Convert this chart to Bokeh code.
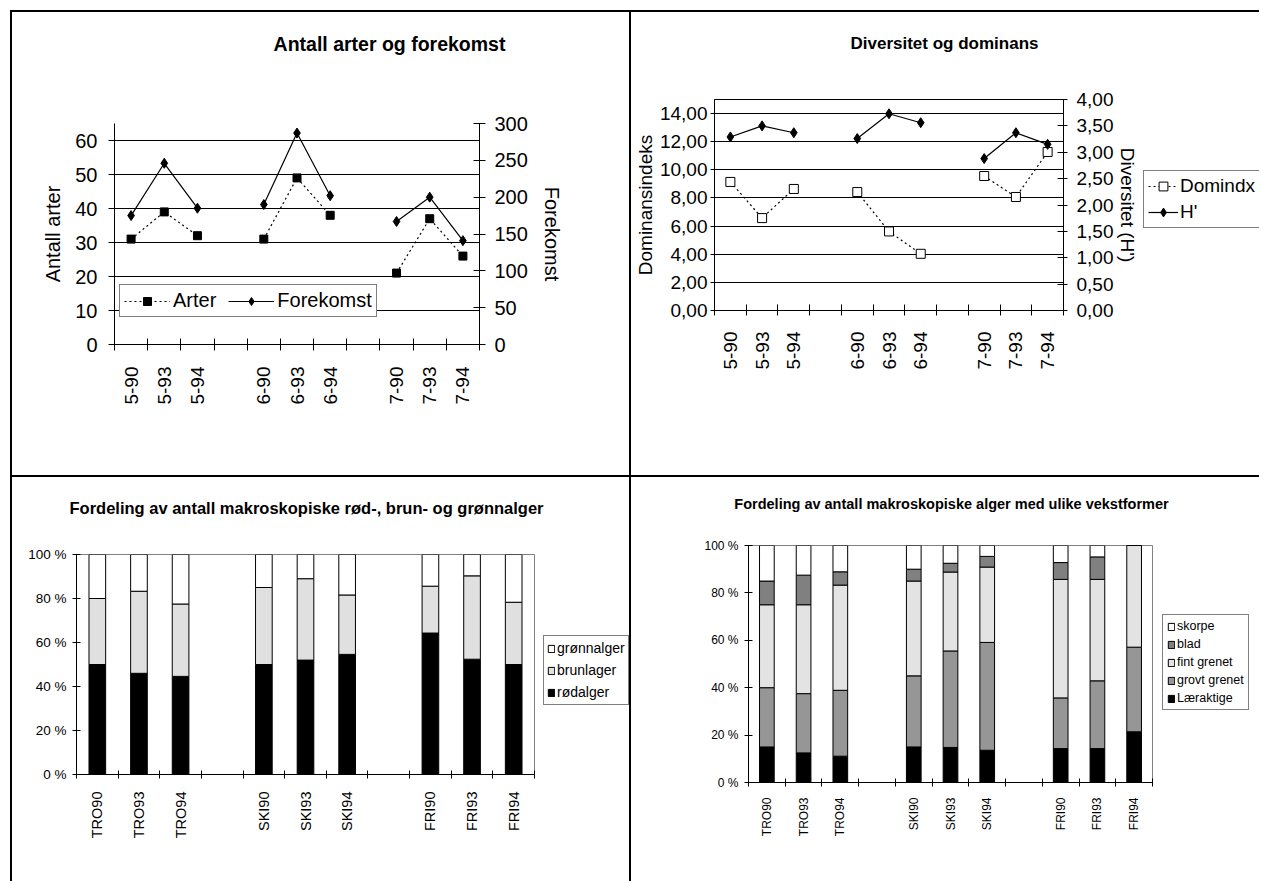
import math
from bokeh.plotting import figure
from bokeh.models import (Range1d, LinearAxis, FixedTicker, Legend, LegendItem, Label,
                          CustomJSTickFormatter, ColumnDataSource)
from bokeh.layouts import row, column
from bokeh.embed import file_html
from bokeh.resources import INLINE

FONT = "Liberation Sans"

# ---------------- data ----------------
sites = ["5-90", "5-93", "5-94", "6-90", "6-93", "6-94", "7-90", "7-93", "7-94"]
arter = [31, 39, 32, 31, 49, 38, 21, 37, 26]
forekomst = [175, 246, 185, 190, 287, 202, 167, 200, 141]
domindx = [9.14, 6.57, 8.64, 8.42, 5.62, 4.03, 9.56, 8.07, 11.27]
h_div = [3.29, 3.50, 3.37, 3.26, 3.73, 3.56, 2.88, 3.37, 3.15]

stations = ["TRO90", "TRO93", "TRO94", "SKI90", "SKI93", "SKI94", "FRI90", "FRI93", "FRI94"]
rodalger = [50, 46, 44.6, 50, 52, 54.6, 64.3, 52.4, 50]
brunlager = [30, 37.3, 32.9, 35, 37, 27, 21.3, 37.9, 28.3]
gronnalger = [20, 16.7, 22.5, 15, 11, 18.4, 14.4, 9.7, 21.7]

laeraktige = [15, 12.5, 11.1, 15, 14.8, 13.6, 14.3, 14.3, 21.4]
grovt = [25, 25, 27.8, 30, 40.7, 45.5, 21.4, 28.6, 35.7]
fint = [35, 37.5, 44.4, 40, 33.3, 31.8, 50, 42.8, 42.9]
blad = [10, 12.5, 5.6, 5, 3.7, 4.5, 7.1, 9.5, 0]
skorpe = [15, 12.5, 11.1, 10, 7.5, 4.6, 7.2, 4.8, 0]

left1_ticks = [0, 10, 20, 30, 40, 50, 60]
right1_ticks = [0, 50, 100, 150, 200, 250, 300]
left2_ticks = [0, 2, 4, 6, 8, 10, 12, 14]
right2_ticks = [0, 0.5, 1, 1.5, 2, 2.5, 3, 3.5, 4]
pct_ticks = [0, 20, 40, 60, 80, 100]

# slot positions: three groups of three, with an empty slot between groups
pos = [i + i // 3 for i in range(len(sites))]
bounds = [b - 0.5 for b in range(12)]

WHITE = {"background-color": "white"}


def broken(vals):
    xs, ys = [], []
    for i, v in enumerate(vals):
        if i > 0 and i % 3 == 0:
            xs.append(float("nan"))
            ys.append(float("nan"))
        xs.append(pos[i])
        ys.append(v)
    return xs, ys


def style_xaxis(ax, labels, size, standoff, tin, tout):
    ax.ticker = FixedTicker(ticks=pos, minor_ticks=bounds)
    ax.major_label_overrides = {p: l for p, l in zip(pos, labels)}
    ax.major_tick_line_color = None
    ax.major_tick_in = 0
    ax.major_tick_out = 0
    ax.minor_tick_line_color = "black"
    ax.minor_tick_in = tin
    ax.minor_tick_out = tout
    ax.major_label_orientation = math.pi / 2
    ax.major_label_standoff = standoff
    ax.major_label_text_font = FONT
    ax.major_label_text_font_size = size
    ax.major_label_text_color = "black"
    ax.axis_line_color = "black"


def style_yaxis(ax, size, tin, tout, standoff, label=None, label_size=None, label_standoff=5):
    ax.major_label_text_font = FONT
    ax.major_label_text_font_size = size
    ax.major_label_text_color = "black"
    ax.major_tick_in = tin
    ax.major_tick_out = tout
    ax.major_tick_line_color = "black"
    ax.minor_tick_line_color = None
    ax.major_label_standoff = standoff
    ax.axis_line_color = "black"
    if label:
        ax.axis_label = label
        ax.axis_label_text_font = FONT
        ax.axis_label_text_font_size = label_size or size
        ax.axis_label_text_font_style = "normal"
        ax.axis_label_text_color = "black"
        ax.axis_label_standoff = label_standoff


def base_fig(w, h, left, right, top, bottom, yr):
    p = figure(width=w, height=h, output_backend="svg", toolbar_location=None, tools="",
               x_range=Range1d(-0.5, 10.5), y_range=yr, frame_align=False,
               min_border_left=left, min_border_right=right,
               min_border_top=top, min_border_bottom=bottom)
    p.background_fill_color = "white"
    p.border_fill_color = "white"
    p.xgrid.visible = False
    return p


def blank_fig(w, h, xr=None, yr=None):
    p = figure(width=w, height=h, output_backend="svg", toolbar_location=None, tools="",
               x_range=xr or Range1d(0, w), y_range=yr or Range1d(0, h), frame_align=False,
               x_axis_type=None, y_axis_type=None,
               min_border_left=0, min_border_right=0, min_border_top=0, min_border_bottom=0)
    p.outline_line_color = None
    p.background_fill_color = "white"
    p.border_fill_color = "white"
    p.grid.visible = False
    return p


def title_fig(w, h, text, cx, cy, size):
    p = blank_fig(w, h)
    p.add_layout(Label(x=cx, y=h - cy, text=text,
                       text_align="center", text_baseline="middle",
                       text_font=FONT, text_font_size=size, text_font_style="bold",
                       text_color="black"))
    return p


def legend_fig(w, h):
    # legend-only panel: the series are drawn here again but kept out of view,
    # only their legend glyphs are visible
    return blank_fig(w, h, Range1d(100, 101), Range1d(1000, 1001))


def legend_kw(size, gw, gh, lh, standoff, spacing, padding):
    return dict(label_text_font=FONT, label_text_font_size=size, label_text_color="black",
                glyph_width=gw, glyph_height=gh, label_height=lh, label_standoff=standoff,
                spacing=spacing, padding=padding, margin=0,
                border_line_color="black", border_line_width=1,
                background_fill_color="white", background_fill_alpha=1)


# ---------------- chart 1 ----------------
t1 = title_fig(617, 62, "Antall arter og forekomst", 377, 31, "19.5px")
p1 = base_fig(617, 401, 102, 150, 49, 131, Range1d(0, 65))
p1.outline_line_color = None
p1.extra_y_ranges = {"r": Range1d(0, 300)}
style_xaxis(p1.xaxis[0], sites, "19px", 16, 6, 6)
p1.yaxis[0].ticker = FixedTicker(ticks=left1_ticks)
style_yaxis(p1.yaxis[0], "20px", 0, 6, 11, "Antall arter", "20px", 8)
p1.ygrid.grid_line_color = "black"
p1.ygrid.grid_line_width = 1
ax1r = LinearAxis(y_range_name="r", ticker=FixedTicker(ticks=right1_ticks))
style_yaxis(ax1r, "20px", 6, 6, 9, "Forekomst", "20px", 10)
p1.add_layout(ax1r, "right")

ax_, ay_ = broken(arter)
fx_, fy_ = broken(forekomst)
l1 = p1.line(ax_, ay_, line_color="black", line_width=1.2, line_dash="2 3")
s1 = p1.scatter(pos, arter, marker="square", size=8, fill_color="black", line_color="black")
l2 = p1.line(fx_, fy_, line_color="black", line_width=1.2, y_range_name="r")
s2 = p1.scatter(pos, forekomst, marker="diamond", size=10, fill_color="black",
                line_color="black", y_range_name="r")
leg1 = Legend(items=[LegendItem(label="Arter", renderers=[l1, s1]),
                     LegendItem(label="Forekomst", renderers=[l2, s2])],
              orientation="horizontal", location=(5, 27),
              **legend_kw("20px", 46, 20, 22, 3, 12, 4))
p1.add_layout(leg1)
cell1 = column(t1, p1, styles=WHITE)

# ---------------- chart 2 ----------------
t2 = title_fig(628, 62, "Diversitet og dominans", 313, 31, "17px")
p2 = base_fig(512, 401, 79, 80, 25, 165, Range1d(0, 15))
p2.outline_line_color = "black"
p2.outline_line_width = 1
p2.extra_y_ranges = {"r": Range1d(0, 4)}
style_xaxis(p2.xaxis[0], sites, "19px", 16, 6, 5)
p2.yaxis[0].ticker = FixedTicker(ticks=left2_ticks)
p2.yaxis[0].formatter = CustomJSTickFormatter(code="return tick.toFixed(2).replace('.', ',');")
style_yaxis(p2.yaxis[0], "19px", 0, 4, 3, "Dominansindeks", "19px", 1)
p2.ygrid.grid_line_color = "black"
p2.ygrid.grid_line_width = 1
ax2r = LinearAxis(y_range_name="r", ticker=FixedTicker(ticks=right2_ticks),
                  formatter=CustomJSTickFormatter(code="return tick.toFixed(2).replace('.', ',');"))
style_yaxis(ax2r, "19px", 6, 4, 9, "Diversitet (H')", "19px", 1)
p2.add_layout(ax2r, "right")

dx_, dy_ = broken(domindx)
hx_, hy_ = broken(h_div)
p2.line(dx_, dy_, line_color="black", line_width=1.2, line_dash="2 3")
p2.scatter(pos, domindx, marker="square", size=9, fill_color="white", line_color="black")
p2.line(hx_, hy_, line_color="black", line_width=1.2, y_range_name="r")
p2.scatter(pos, h_div, marker="diamond", size=10, fill_color="black",
           line_color="black", y_range_name="r")

g2 = legend_fig(116, 401)
gl3 = g2.line(dx_, dy_, line_color="black", line_width=1.2, line_dash="2 3")
gs3 = g2.scatter(pos, domindx, marker="square", size=9, fill_color="white", line_color="black")
gl4 = g2.line(hx_, hy_, line_color="black", line_width=1.2)
gs4 = g2.scatter(pos, h_div, marker="diamond", size=10, fill_color="black", line_color="black")
leg2 = Legend(items=[LegendItem(label="Domindx", renderers=[gl3, gs3]),
                     LegendItem(label="H'", renderers=[gl4, gs4])],
              orientation="vertical", location=(0, 247),
              **legend_kw("19px", 30, 22, 22, 2, 4, 4))
g2.add_layout(leg2)
cell2 = column(t2, row(p2, g2, styles=WHITE), styles=WHITE)

# ---------------- chart 3 ----------------
t3 = title_fig(617, 60, "Fordeling av antall makroskopiske rød-, brun- og grønnalger", 294, 30, "16.5px")
p3 = base_fig(531, 344, 64, 9, 17, 107, Range1d(0, 100))
p3.outline_line_color = "#808080"
p3.outline_line_width = 1
p3.ygrid.visible = False
style_xaxis(p3.xaxis[0], stations, "14.5px", 13, 4, 4)
p3.yaxis[0].ticker = FixedTicker(ticks=pct_ticks)
p3.yaxis[0].formatter = CustomJSTickFormatter(code="return tick.toFixed(0) + ' %';")
style_yaxis(p3.yaxis[0], "13.5px", 4, 4, 6)
src3 = ColumnDataSource(dict(x=pos, rod=rodalger, brun=brunlager, gronn=gronnalger))
colors3 = ["black", "#e0e0e0", "white"]
keys3 = ["rod", "brun", "gronn"]
p3.vbar_stack(keys3, x="x", width=0.4, source=src3,
              fill_color=colors3, line_color="black", line_width=1)
g3 = legend_fig(86, 344)
gr3 = g3.vbar_stack(keys3, x="x", width=0.4, source=src3,
                    fill_color=colors3, line_color="black", line_width=1)
leg3 = Legend(items=[LegendItem(label="grønnalger", renderers=[gr3[2]]),
                     LegendItem(label="brunlager", renderers=[gr3[1]]),
                     LegendItem(label="rødalger", renderers=[gr3[0]])],
              orientation="vertical", location=(0, 176),
              **legend_kw("14px", 8, 9, 18, 2, 4, 3))
g3.add_layout(leg3)
cell3 = column(t3, row(p3, g3, styles=WHITE), styles=WHITE)

# ---------------- chart 4 ----------------
t4 = title_fig(628, 52, "Fordeling av antall makroskopiske alger med ulike vekstformer", 320, 26, "14.5px")
p4 = base_fig(531, 352, 117, 10, 16, 99, Range1d(0, 100))
p4.outline_line_color = "#808080"
p4.outline_line_width = 1
p4.ygrid.visible = False
style_xaxis(p4.xaxis[0], stations, "12px", 11, 4, 4)
p4.yaxis[0].ticker = FixedTicker(ticks=pct_ticks)
p4.yaxis[0].formatter = CustomJSTickFormatter(code="return tick.toFixed(0) + ' %';")
style_yaxis(p4.yaxis[0], "12px", 4, 4, 6)
src4 = ColumnDataSource(dict(x=pos, laer=laeraktige, grovt=grovt, fint=fint, blad=blad, skorpe=skorpe))
colors4 = ["black", "#969696", "#e3e3e3", "#808080", "white"]
keys4 = ["laer", "grovt", "fint", "blad", "skorpe"]
p4.vbar_stack(keys4, x="x", width=0.4, source=src4,
              fill_color=colors4, line_color="black", line_width=1)
g4 = legend_fig(97, 352)
gr4 = g4.vbar_stack(keys4, x="x", width=0.4, source=src4,
                    fill_color=colors4, line_color="black", line_width=1)
leg4 = Legend(items=[LegendItem(label="skorpe", renderers=[gr4[4]]),
                     LegendItem(label="blad", renderers=[gr4[3]]),
                     LegendItem(label="fint grenet", renderers=[gr4[2]]),
                     LegendItem(label="grovt grenet", renderers=[gr4[1]]),
                     LegendItem(label="Læraktige", renderers=[gr4[0]])],
              orientation="vertical", location=(0, 171),
              **legend_kw("12.5px", 8, 9, 14, 2, 4, 4))
g4.add_layout(leg4)
cell4 = column(t4, row(p4, g4, styles=WHITE), styles=WHITE)

root = column(row(cell1, cell2, spacing=2), row(cell3, cell4, spacing=2), spacing=2,
              styles={"background-color": "black", "padding": "2px 0 0 2px",
                      "margin": "10px 0 0 10px"})

open("out.html", "w").write(file_html(root, INLINE))
